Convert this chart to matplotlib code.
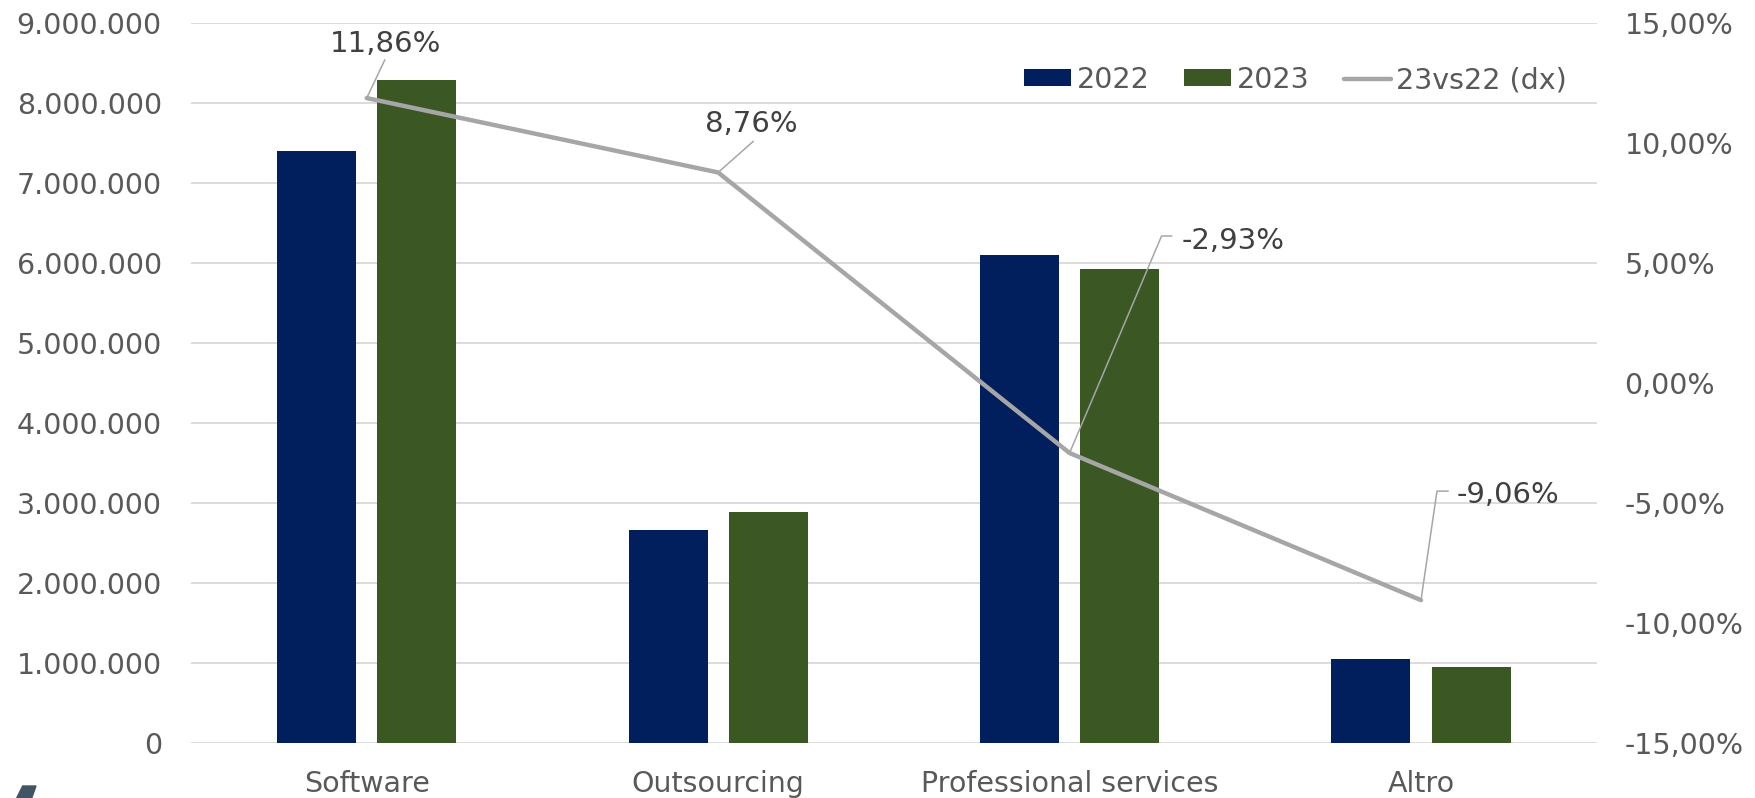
import matplotlib
matplotlib.use("Agg")
import matplotlib.pyplot as plt
from matplotlib.patches import Polygon
from matplotlib.lines import Line2D
from matplotlib.ticker import FuncFormatter
from matplotlib.transforms import Affine2D, ScaledTranslation
import numpy as np

# Revenue by business line, 2022 vs 2023, with year-on-year change
categories = ["Software", "Outsourcing", "Professional services", "Altro"]
values_2022 = [7400000, 2655000, 6096000, 1042000]
values_2023 = [8278000, 2888000, 5917000, 948000]
change_pct = [11.86, 8.76, -2.93, -9.06]
change_labels = ["11,86%", "8,76%", "-2,93%", "-9,06%"]

left_ticks = np.arange(0, 9000001, 1000000)
right_ticks = np.arange(-15, 16, 5)

C2022 = "#001f5c"
C2023 = "#3a5724"
CLINE = "#a6a6a6"
CGRID = "#d9d9d9"
CTICK = "#595959"
CLABEL = "#404040"

plt.rcParams["font.family"] = ["DejaVu Sans"]

W, H = 1755, 798
fig = plt.figure(figsize=(W / 100, H / 100), dpi=100)
ax = fig.add_axes([191 / W, 1 - 742.7 / H, 1405.7 / W, 720 / H])
ax2 = ax.twinx()

x = np.arange(len(categories))
bw = 0.225
off = 0.1425
b1 = ax.bar(x - off, values_2022, bw, color=C2022, label="2022", zorder=2)
b2 = ax.bar(x + off, values_2023, bw, color=C2023, label="2023", zorder=2)

ax.set_xlim(-0.5, len(categories) - 0.5)
ax.set_ylim(0, 9000000)
ax.set_yticks(left_ticks)
ax.yaxis.set_major_formatter(FuncFormatter(lambda v, p: f"{int(v):,}".replace(",", ".")))
ax.set_xticks(x)
ax.set_xticklabels(categories)
ax.grid(axis="y", color=CGRID, lw=1.3, zorder=0)
ax.set_axisbelow(True)
for s in ax.spines.values():
    s.set_visible(False)
ax.tick_params(axis="y", length=0, pad=21, labelsize=20.5, labelcolor=CTICK)
ax.tick_params(axis="x", length=0, pad=20, labelsize=20.5, labelcolor=CTICK)

line, = ax2.plot(x, change_pct, color=CLINE, lw=3.2, solid_capstyle="round",
                 solid_joinstyle="round", label="23vs22 (dx)", zorder=3)
ax2.set_ylim(-15, 15)
ax2.set_yticks(right_ticks)
ax2.yaxis.set_major_formatter(FuncFormatter(lambda v, p: f"{v:.2f}%".replace(".", ",")))
for s in ax2.spines.values():
    s.set_visible(False)
ax2.tick_params(axis="y", length=0, pad=20, labelsize=20.5, labelcolor=CTICK)

# data labels with leader lines (offsets in pixels from each point)
label_offsets = [(19, 46, "center"), (33, 40, "center"), (112, 204, "left"), (36, 97, "left")]
leader_paths = [
    [(0, 0), (18, 38)],
    [(0, 0), (35, 31)],
    [(0, 0), (92, 217), (102, 217)],
    [(0, 0), (16, 109), (27, 109)],
]
for i in range(len(categories)):
    dx, dy, ha = label_offsets[i]
    ax2.annotate(change_labels[i], xy=(x[i], change_pct[i]), xytext=(dx, dy),
                 textcoords="offset pixels", ha=ha, va="baseline",
                 fontsize=21, color=CLABEL, zorder=5)
    tr = Affine2D() + ScaledTranslation(x[i], change_pct[i], ax2.transData)
    px, py = zip(*leader_paths[i])
    ax2.add_line(Line2D(px, py, transform=tr, color=CLINE, lw=1.1, zorder=4))

leg = ax.legend(handles=[b1, b2, line], loc="upper right", ncol=3,
                bbox_to_anchor=((1567 - 191) / 1405.7, 1 - (66 - 22.7) / 720),
                frameon=False, fontsize=20.5, labelcolor=CTICK,
                handlelength=1.65, handleheight=0.54, handletextpad=0.2,
                columnspacing=1.2, borderaxespad=0.0, borderpad=0.0)
leg.set_zorder(6)

# small logo mark in the lower-left corner
fig.patches.append(Polygon([(16.7 / W, 0), (22.7 / W, 1 - 786 / H), (36 / W, 1 - 786 / H), (31.7 / W, 0)],
                           closed=True, transform=fig.transFigure, color="#3f5563"))

fig.savefig("out.png", dpi=100)
